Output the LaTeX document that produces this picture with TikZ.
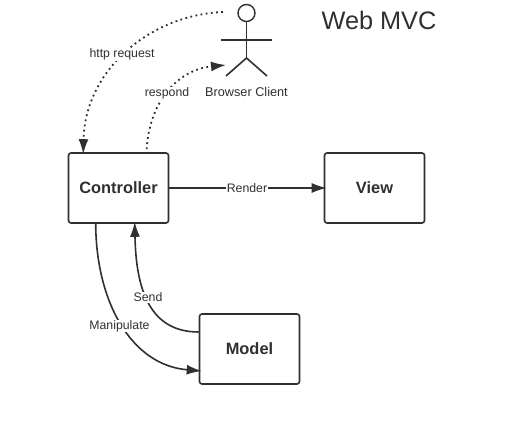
\documentclass[tikz,border=0pt]{standalone}
\usepackage{fontspec}
\setmainfont{Liberation Sans}
\usetikzlibrary{arrows.meta}
\definecolor{ink}{HTML}{303030}
\tikzset{
  box/.style={draw=ink,line width=1.6pt,rounded corners=2.5pt,minimum width=100pt,minimum height=70pt,inner sep=0pt,font=\fontsize{16.4}{18}\selectfont\bfseries,text=ink},
  lbl/.style={fill=white,inner sep=0.5pt,font=\fontsize{12.3}{14}\selectfont,text=ink},
  solidlink/.style={draw=ink,line width=1.6pt,-{Latex[length=15pt,width=10pt]}},
  dotlink/.style={draw=ink,line width=1.8pt,dash pattern=on 1.8pt off 3.4pt,-{Latex[length=15pt,width=10pt]}},
  actorline/.style={draw=ink,line width=1.6pt},
}
\begin{document}
\begin{tikzpicture}[x=1pt,y=-1pt]
\useasboundingbox[fill=white] (0,0) rectangle (514,435);
\node[box] (ctrl) at (118.5,188) {\raisebox{-1pt}{Controller}};
\node[box] (view) at (374.5,188) {\raisebox{-1pt}{View}};
\node[box] (model) at (249.5,349) {\raisebox{-1pt}{Model}};
% actor
\node[draw=ink,line width=1.4pt,circle,minimum size=17pt,inner sep=0pt] (head) at (246.5,13) {};
\coordinate (hip) at (246.5,58);
\coordinate (armL) at (221,40);
\coordinate (armR) at (272,40);
\coordinate (legL) at (226,76);
\coordinate (legR) at (267,76);
\draw[actorline] (head.south) -- (hip);
\draw[actorline] (armL) -- (armR);
\draw[actorline] (legL) -- (hip) -- (legR);
\node[font=\fontsize{12.7}{14}\selectfont,text=ink] (client) at (246.5,91.5) {Browser Client};
\node[font=\fontsize{25.3}{28}\selectfont,text=ink] (title) at (379,20) {Web MVC};
% connectors
\coordinate (reqStart) at (223,12);
\coordinate (respEnd) at (226,65);
\path[dotlink] (reqStart) .. controls (150,15) and (85,70) .. ([xshift=15.5pt,yshift=-2pt]ctrl.north west);
\path[dotlink] ([xshift=79pt,yshift=3pt]ctrl.north west) .. controls (149,105) and (175,70) .. (respEnd);
\path[solidlink] (ctrl.east) -- ([xshift=3pt]view.west);
\path[solidlink] ([xshift=28pt]ctrl.south west) .. controls (96,300) and (130,365) .. ([xshift=3pt,yshift=-22pt]model.west);
\path[solidlink] ([yshift=17pt]model.west) .. controls (150,332) and (136,290) .. ([xshift=67pt,yshift=2pt]ctrl.south west);
% labels
\node[lbl] (l1) at (122,54.5) {http request};
\node[lbl] (l2) at (167,93.5) {respond};
\node[lbl] (l3) at (247,188.5) {Render};
\node[lbl] (l4) at (148,297.5) {Send};
\node[lbl] (l5) at (119.5,326) {Manipulate};
\end{tikzpicture}
\end{document}
